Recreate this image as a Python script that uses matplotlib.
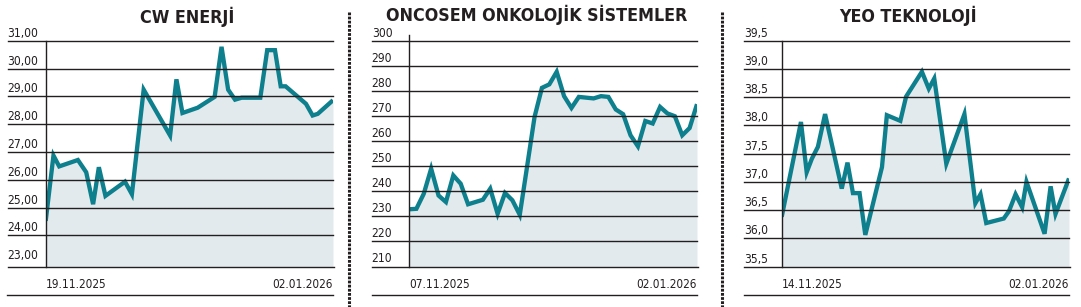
import matplotlib

matplotlib.use("Agg")
import matplotlib.pyplot as plt
from matplotlib import font_manager
from matplotlib.lines import Line2D
from matplotlib.transforms import blended_transform_factory, offset_copy

W, H = 1081, 307
TEXT = "#231f20"
TEAL = "#0e7f8d"
FILL = "#e2eaed"

# CW ENERJI (x = position along the period, 0-100)
cw_x = [0, 2.7, 4.7, 11.2, 14.1, 16.5, 18.5, 20.8, 27.6, 30.0, 34.1, 43.3, 45.5, 47.6, 52.9,
        58.8, 61.2, 63.5, 65.9, 68.2, 74.7, 77.1, 79.8, 81.8, 83.5, 90.6, 92.9, 94.7, 100]
cw_y = [24.52, 26.87, 26.48, 26.71, 26.27, 25.12, 26.45, 25.42, 25.93, 25.48, 29.24, 27.59,
        29.61, 28.40, 28.59, 28.98, 30.78, 29.24, 28.88, 28.95, 28.95, 30.66, 30.66, 29.36,
        29.36, 28.73, 28.31, 28.37, 28.86]
cw_ticks = [23, 24, 25, 26, 27, 28, 29, 30, 31]
cw_labels = ["23,00", "24,00", "25,00", "26,00", "27,00", "28,00", "29,00", "30,00", "31,00"]

# ONCOSEM ONKOLOJIK SISTEMLER (one value per trading day)
onc_y = [232.8, 233.0, 239.0, 249.0, 238.3, 235.7, 246.3, 243.0, 234.8, 235.7, 236.6, 241.0,
         231.0, 239.3, 236.4, 230.6, 250.0, 269.6, 281.2, 282.6, 287.6, 277.9, 273.2, 277.6,
         277.3, 277.0, 277.9, 277.6, 272.6, 270.7, 262.3, 257.9, 268.0, 267.0, 273.6, 271.0,
         269.9, 262.3, 265.2, 274.7]
onc_x = list(range(len(onc_y)))
onc_ticks = [210, 220, 230, 240, 250, 260, 270, 280, 290, 300]
onc_labels = [str(t) for t in onc_ticks]

# YEO TEKNOLOJI
yeo_x = [0, 6.7, 8.7, 10.5, 12.6, 15.1, 20.9, 22.9, 24.8, 27.1, 29.1, 34.9, 36.6, 41.3, 43.3,
         48.8, 51.2, 53.1, 57.3, 63.6, 67.4, 69.2, 71.2, 77.3, 79.1, 81.4, 83.7, 85.2, 91.5,
         93.6, 95.3, 100]
yeo_y = [36.38, 38.06, 37.17, 37.41, 37.62, 38.20, 36.88, 37.34, 36.80, 36.80, 36.06, 37.26,
         38.18, 38.08, 38.51, 38.95, 38.65, 38.83, 37.32, 38.20, 36.62, 36.78, 36.27, 36.35,
         36.48, 36.78, 36.55, 37.00, 36.08, 36.92, 36.43, 37.06]
yeo_ticks = [35.5, 36.0, 36.5, 37.0, 37.5, 38.0, 38.5, 39.0, 39.5]
yeo_labels = ["35,5", "36,0", "36,5", "37,0", "37,5", "38,0", "38,5", "39,0", "39,5"]

names = {f.name for f in font_manager.fontManager.ttflist}
if "Liberation Sans Narrow" in names:
    FONT, STRETCH, SCALE = "Liberation Sans Narrow", "normal", 1.0
else:
    FONT, STRETCH, SCALE = "DejaVu Sans", "condensed", 0.8
plt.rcParams["font.family"] = [FONT, "DejaVu Sans"]

panels = [
    dict(title="CW ENERJİ", x=cw_x, y=cw_y, ticks=cw_ticks, labels=cw_labels, ymin=22.88,
         start="19.11.2025", end="02.01.2026",
         lab=7.5, left=45.7, right=333, title_x=187, title_y=23, top_ext=0),
    dict(title="ONCOSEM ONKOLOJİK SİSTEMLER", x=onc_x, y=onc_y, ticks=onc_ticks, labels=onc_labels,
         ymin=210, start="07.11.2025", end="02.01.2026",
         lab=371.7, left=409, right=697, title_x=537, title_y=21, top_ext=5.5),
    dict(title="YEO TEKNOLOJİ", x=yeo_x, y=yeo_y, ticks=yeo_ticks, labels=yeo_labels,
         ymin=35.5, start="14.11.2025", end="02.01.2026",
         lab=744, left=781.7, right=1069, title_x=908, title_y=22.5, top_ext=0),
]

TOP, BOTTOM = 40.7, 266.5

fig = plt.figure(figsize=(W / 100, H / 100), dpi=100)
fig.patch.set_facecolor("white")


def fx(px):
    return px / W


def fy(px):
    return 1 - px / H


for p in panels:
    ax = fig.add_axes([fx(p["left"]), fy(BOTTOM), (p["right"] - p["left"]) / W, (BOTTOM - TOP) / H])
    ymax = p["ticks"][-1]
    ax.fill_between(p["x"], p["y"], p["ymin"], color=FILL, lw=0)
    ax.plot(p["x"], p["y"], color=TEAL, lw=3.1, solid_joinstyle="miter", solid_capstyle="butt")
    ax.set_xlim(p["x"][0], p["x"][-1])
    ax.set_ylim(p["ymin"], ymax)
    ax.set_xticks([])
    ax.set_yticks([])
    for s in ax.spines.values():
        s.set_visible(False)

    width = p["right"] - p["left"]
    off = -(p["left"] - p["lab"]) / width
    trans = blended_transform_factory(ax.transAxes, ax.transData)
    for t in p["ticks"][1:]:
        ax.plot([off, 1], [t, t], transform=trans, color=TEXT, lw=1, clip_on=False)
    ax.plot([off, 1.005], [p["ymin"], p["ymin"]], transform=trans, color=TEXT, lw=1, clip_on=False)
    ax.plot([0, 0], [0, 1 + p["top_ext"] / (BOTTOM - TOP)], transform=ax.transAxes,
            color=TEXT, lw=1, clip_on=False)

    lab_trans = offset_copy(trans, fig=fig, y=4, units="dots")
    for t, s in zip(p["ticks"], p["labels"]):
        ax.text(off, t, s, transform=lab_trans, ha="left", va="baseline",
                fontsize=10.8 * SCALE, fontstretch=STRETCH, color=TEXT)

    fig.text(fx(p["title_x"]), fy(p["title_y"]), p["title"], ha="center", va="baseline",
             fontsize=16 * SCALE, fontweight="bold", fontstretch=STRETCH, color=TEXT)
    fig.text(fx(p["left"]), fy(288), p["start"], ha="left", va="baseline",
             fontsize=10.6 * SCALE, fontstretch=STRETCH, color=TEXT)
    fig.text(fx(p["right"]), fy(288), p["end"], ha="right", va="baseline",
             fontsize=10.6 * SCALE, fontstretch=STRETCH, color=TEXT)
    fig.add_artist(Line2D([fx(p["lab"]), fx(p["right"])], [fy(295), fy(295)], color=TEXT, lw=1))

for sx in [349, 721.5]:
    fig.add_artist(Line2D([fx(sx), fx(sx)], [fy(12), 0], color=TEXT, lw=2.2,
                          linestyle=(0, (0.9, 0.45))))

fig.savefig("out.png", dpi=100, facecolor="white")
